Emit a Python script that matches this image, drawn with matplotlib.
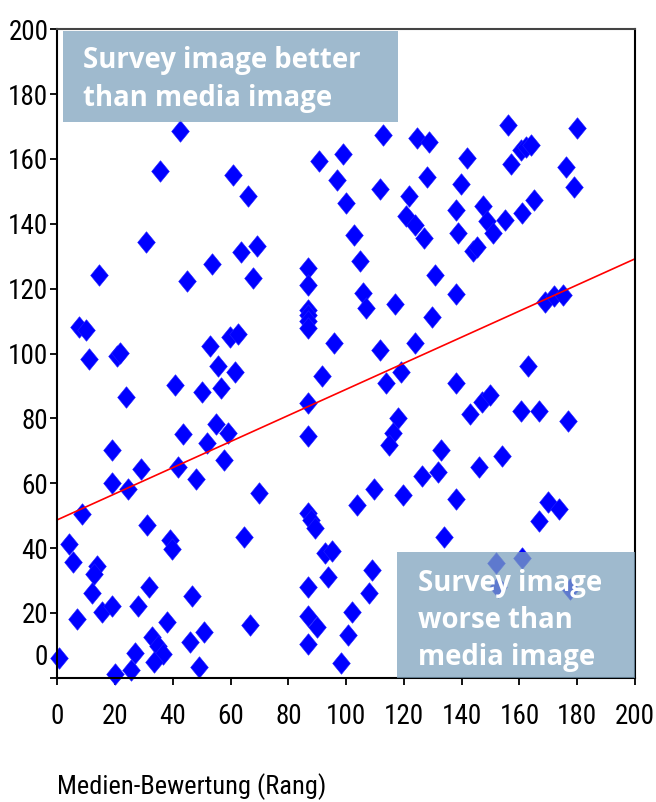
import matplotlib
matplotlib.use("Agg")
import matplotlib.pyplot as plt
import matplotlib.font_manager as fm
from matplotlib.path import Path
from matplotlib.patches import Rectangle
from matplotlib.transforms import offset_copy

# Media rank (x) and survey rank (y) for each company
media_rank = [
    42.5, 35.5, 60.9, 66.1, 30.7, 63.6, 69.0, 53.7, 14.5, 44.8,
    67.8, 7.6, 9.9, 10.9, 20.6, 21.6, 52.9, 59.8, 62.7, 55.7,
    61.6, 23.8, 40.8, 50.0, 56.8, 54.9, 43.6, 59.0, 51.9, 18.8,
    57.8, 41.9, 28.9, 47.9, 18.8, 24.6, 8.7, 30.9, 64.6, 3.9,
    39.0, 39.8, 5.5, 13.8, 12.8, 11.9, 31.8, 46.7, 6.7, 15.6,
    18.8, 27.8, 37.9, 50.9, 45.9, 32.9, 35.0, 36.7, 33.5, 26.9,
    25.5, 0.7, 20.0, 49.0, 66.7, 112.9, 124.7, 128.8, 90.6, 99.0,
    128.0, 96.9, 111.7, 121.8, 100.0, 120.7, 123.8, 126.9, 102.8, 104.9,
    130.7, 86.9, 86.9, 86.9, 86.9, 86.9, 86.9, 105.9, 106.9, 117.0,
    129.8, 95.9, 111.8, 123.8, 91.7, 113.9, 119.0, 86.9, 156.1, 179.9,
    160.5, 162.2, 163.9, 141.8, 157.0, 176.1, 179.0, 139.8, 138.1, 147.5,
    165.1, 160.8, 155.0, 148.7, 150.8, 138.8, 144.0, 145.2, 138.0, 168.8,
    172.0, 175.2, 162.9, 138.0, 142.9, 146.9, 149.8, 160.7, 166.7, 176.9,
    132.7, 131.9, 146.1, 153.9, 138.0, 170.0, 173.8, 166.7, 133.9, 152.0,
    160.9, 152.4, 177.5, 118.0, 116.1, 115.0, 69.9, 103.8, 109.7, 119.8,
    126.1, 86.9, 86.9, 88.0, 89.2, 92.7, 95.2, 93.8, 109.0, 108.0,
    86.9, 86.9, 89.8, 101.9, 100.7, 86.9, 98.1,
]
survey_rank = [
    168.7, 156.3, 155.2, 148.6, 134.3, 131.3, 133.3, 127.6, 124.2, 122.4,
    123.3, 108.2, 107.3, 98.3, 99.1, 100.3, 102.4, 105.2, 106.1, 96.0,
    94.4, 86.7, 90.2, 88.1, 89.3, 78.2, 75.1, 75.6, 72.3, 70.1,
    67.2, 64.9, 64.3, 61.2, 60.0, 58.2, 50.4, 47.1, 43.3, 41.2,
    42.5, 39.7, 35.8, 34.5, 31.9, 26.0, 28.1, 25.3, 18.1, 20.2,
    22.2, 22.2, 17.3, 14.0, 10.9, 12.5, 9.8, 7.2, 4.9, 7.5,
    2.4, 6.0, 1.0, 3.4, 16.3, 167.5, 166.5, 165.2, 159.5, 161.5,
    154.3, 153.6, 150.7, 148.7, 146.4, 142.3, 139.7, 135.6, 136.4, 128.4,
    124.1, 126.5, 121.2, 113.4, 111.8, 110.1, 107.8, 118.6, 114.0, 115.3,
    111.2, 103.2, 101.1, 103.2, 93.2, 90.9, 94.4, 84.7, 170.4, 169.6,
    162.8, 163.8, 164.4, 160.3, 158.5, 157.4, 151.4, 152.3, 144.3, 145.5,
    147.2, 143.4, 141.3, 141.0, 137.2, 137.2, 131.5, 132.8, 118.3, 116.0,
    117.6, 118.1, 96.1, 90.9, 81.4, 85.0, 87.1, 82.3, 82.3, 79.3,
    70.2, 63.6, 65.1, 68.5, 55.1, 54.1, 52.1, 48.4, 43.3, 35.4,
    37.0, 27.9, 27.5, 80.2, 75.4, 71.8, 57.1, 53.3, 58.3, 56.3,
    62.3, 74.4, 50.7, 48.7, 46.1, 38.4, 39.1, 31.2, 33.2, 26.2,
    28.1, 19.0, 15.6, 20.4, 13.2, 10.3, 4.4,
]

# Linear trend through the cloud
trend_x = [0, 200]
trend_y = [48.7, 129.2]

tick_values = list(range(0, 201, 20))
x_title = "Medien-Bewertung (Rang)"
label_better = "Survey image better\nthan media image"
label_worse = "Survey image\nworse than\nmedia image"

# Pick the narrowest sans available for the axis text
fonts = fm.fontManager.ttflist
names = {f.name for f in fonts}
stretch = "normal"
if "Liberation Sans Narrow" in names:
    axis_family, axis_size, title_size = "Liberation Sans Narrow", 20, 20
elif "Arial Narrow" in names:
    axis_family, axis_size, title_size = "Arial Narrow", 20, 20
elif "Roboto Condensed" in names:
    axis_family, axis_size, title_size = "Roboto Condensed", 19.5, 19
elif any(f.name == "DejaVu Sans" and f.stretch == "condensed" for f in fonts):
    axis_family, axis_size, title_size, stretch = "DejaVu Sans", 17, 17, "condensed"
else:
    axis_family, axis_size, title_size = "DejaVu Sans", 16, 16
plt.rcParams["font.family"] = [axis_family, "DejaVu Sans"]
plt.rcParams["font.stretch"] = stretch

W, H = 656, 802
fig = plt.figure(figsize=(W / 100, H / 100), dpi=100)
left_px, right_px, top_px, bottom_px = 57.3, 635.0, 29.3, 677.7
ax = fig.add_axes([left_px / W, 1 - bottom_px / H,
                   (right_px - left_px) / W, (bottom_px - top_px) / H])
ax.set_xlim(0, 200)
ax.set_ylim(0, 200)

# Slightly tall diamond marker
diamond = Path([(0, 1), (0.82, 0), (0, -1), (-0.82, 0), (0, 1)],
               [Path.MOVETO, Path.LINETO, Path.LINETO, Path.LINETO, Path.CLOSEPOLY])
ax.plot(media_rank, survey_rank, linestyle="none", marker=diamond, ms=15.5,
        mfc="#0000FF", mec="#2020FF", mew=0.4, clip_on=False, zorder=3)
ax.plot(trend_x, trend_y, color="#FF0000", lw=1.2, zorder=4)

# Annotation boxes
box_color = (127 / 255, 163 / 255, 190 / 255)
ax.add_patch(Rectangle((2.0, 171.5), 115.9, 28.1, facecolor=box_color, alpha=0.75,
                       edgecolor="none", zorder=5, clip_on=False))
ax.add_patch(Rectangle((117.6, 0.0), 82.4, 38.8, facecolor=box_color, alpha=0.75,
                       edgecolor="none", zorder=5, clip_on=False))
text_kw = dict(color="white", fontsize=19.8, fontweight="bold", fontstretch="normal",
               family=["Open Sans", "DejaVu Sans"], ha="left", va="top",
               linespacing=1.38, zorder=6)
ax.text(8.9, 194.8, label_better, **text_kw)
ax.text(124.8, 33.6, label_worse, **text_kw)

# Axes styling
for side, spine in ax.spines.items():
    spine.set_linewidth(1.5)
    spine.set_color("#000000")
    spine.set_zorder(4.5)
ax.spines["top"].set_color("#444444")

ax.set_xticks(tick_values)
ax.set_xticklabels([str(v) for v in tick_values])
ax.set_yticks(tick_values)
ax.set_yticklabels(["" if v == 0 else str(v) for v in tick_values])
ax.tick_params(axis="both", direction="out", length=5, width=1.3,
               labelsize=axis_size, colors="black")
ax.tick_params(axis="y", pad=1.5)
ax.tick_params(axis="x", pad=13)

# The zero label sits a little above the corner
zero_tf = offset_copy(ax.get_yaxis_transform(), fig=fig, x=-6.5, units="points")
ax.text(0, 6.1, "0", transform=zero_tf, ha="right", va="center", fontsize=axis_size)

fig.text(left_px / W, 1 - 787 / H, x_title, ha="left", va="center", fontsize=title_size)

fig.savefig("out.png", dpi=100)
